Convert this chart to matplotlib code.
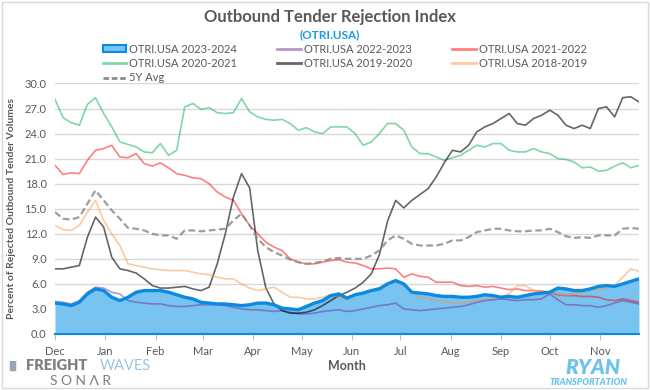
import matplotlib.pyplot as plt
from matplotlib.patches import Patch, Rectangle
from matplotlib.lines import Line2D

plt.rcParams['font.family'] = ['Lato', 'DejaVu Sans']

# days since Dec 1, sampled every 5 days
days = list(range(0, 361, 5))
month_pos = [0, 31, 62, 91, 122, 152, 183, 213, 244, 275, 305, 336]
month_labels = ['Dec', 'Jan', 'Feb', 'Mar', 'Apr', 'May', 'Jun', 'Jul', 'Aug', 'Sep', 'Oct', 'Nov']

otri_2324 = [3.7, 3.6, 3.4, 3.8, 4.8, 5.4, 5.2, 4.4, 4.0, 4.4,
             5.0, 5.2, 5.2, 5.2, 5.0, 4.7, 4.4, 4.2, 3.8, 3.7,
             3.6, 3.6, 3.5, 3.4, 3.5, 3.7, 3.7, 3.5, 3.1, 3.0,
             2.9, 3.3, 3.7, 4.0, 4.6, 4.8, 4.3, 4.7, 4.9, 5.2,
             5.4, 6.0, 6.4, 6.0, 5.0, 4.9, 4.8, 4.6, 4.5, 4.5,
             4.4, 4.4, 4.5, 4.7, 4.6, 4.4, 4.5, 4.4, 4.6, 4.8,
             4.9, 5.0, 5.5, 5.4, 5.2, 5.2, 5.4, 5.7, 5.8, 5.7,
             6.0, 6.3, 6.6]
otri_2223 = [3.9, 3.8, 3.6, 4.0, 5.0, 5.6, 5.5, 5.0, 4.8, 4.0,
             3.8, 3.7, 3.6, 3.6, 3.4, 3.3, 3.3, 3.4, 3.5, 3.5,
             3.5, 3.4, 3.2, 3.0, 2.9, 2.9, 2.8, 2.7, 2.8, 2.6,
             2.4, 2.4, 2.5, 2.7, 2.8, 2.9, 2.7, 2.8, 3.0, 3.2,
             3.4, 3.5, 3.7, 3.0, 2.9, 2.8, 2.9, 3.0, 3.1, 3.2,
             3.3, 3.5, 3.8, 4.0, 4.1, 4.2, 4.1, 4.0, 4.1, 4.1,
             4.2, 4.8, 4.1, 3.5, 3.5, 3.4, 3.4, 3.2, 3.4, 3.7,
             4.0, 3.8, 3.6]
otri_2122 = [20.2, 19.1, 19.3, 19.2, 20.8, 22.0, 22.2, 22.6, 21.2, 21.1,
             21.6, 20.4, 20.1, 20.5, 19.9, 19.2, 19.0, 18.7, 18.6, 18.0,
             17.0, 16.4, 16.0, 14.4, 13.0, 12.0, 11.0, 10.4, 10.0, 9.0,
             8.6, 8.4, 8.4, 8.6, 8.8, 8.9, 8.6, 8.5, 8.2, 7.8,
             7.8, 7.9, 7.8, 6.8, 7.2, 6.9, 6.8, 6.2, 6.2, 6.2,
             5.8, 5.7, 5.8, 5.6, 5.7, 5.5, 5.3, 5.4, 5.2, 5.2,
             5.1, 5.0, 4.7, 4.6, 4.6, 4.5, 4.5, 4.4, 4.1, 4.0,
             4.2, 4.0, 3.8]
otri_2021 = [28.1, 25.9, 25.3, 25.0, 27.5, 28.3, 26.4, 24.8, 23.0, 22.7,
             22.4, 21.8, 21.7, 22.8, 21.4, 22.0, 27.2, 27.6, 26.9, 27.1,
             26.5, 26.4, 26.5, 28.2, 26.6, 26.0, 25.7, 25.6, 25.7, 25.2,
             24.4, 24.7, 24.2, 24.0, 24.8, 24.8, 24.8, 24.0, 22.6, 23.0,
             24.0, 25.2, 25.2, 24.4, 22.4, 21.6, 21.6, 21.2, 20.8, 21.1,
             21.4, 22.0, 22.6, 22.4, 22.8, 22.8, 22.0, 21.8, 21.8, 22.2,
             21.8, 21.6, 21.0, 20.9, 20.6, 19.9, 20.0, 19.5, 19.6, 20.1,
             20.5, 19.9, 20.2]
otri_1920 = [7.8, 7.8, 8.0, 8.2, 11.6, 14.0, 12.8, 9.2, 7.8, 7.6,
             7.3, 6.6, 5.8, 5.5, 5.5, 5.6, 5.7, 5.4, 5.2, 5.6,
             8.4, 12.0, 16.4, 19.2, 17.5, 10.0, 5.5, 3.6, 2.8, 2.5,
             2.5, 2.6, 2.9, 3.4, 4.0, 4.6, 5.0, 5.5, 6.2, 7.2,
             9.5, 13.5, 16.0, 15.1, 16.0, 16.7, 17.4, 18.8, 20.5, 22.0,
             21.8, 22.6, 24.2, 24.8, 25.2, 25.8, 26.4, 25.2, 25.0, 25.8,
             26.2, 26.8, 26.2, 25.0, 24.6, 25.0, 24.6, 27.0, 27.2, 26.0,
             28.3, 28.4, 27.8]
otri_1819 = [13.0, 12.5, 12.4, 13.0, 14.6, 16.0, 13.6, 12.0, 10.6, 8.4,
             8.2, 8.0, 7.8, 7.7, 7.6, 7.6, 7.6, 7.4, 7.2, 7.1,
             6.8, 6.6, 6.6, 6.0, 5.5, 5.2, 5.4, 5.6, 5.0, 4.4,
             4.4, 4.2, 4.2, 4.4, 4.7, 4.4, 4.1, 4.6, 4.9, 5.2,
             5.6, 6.0, 6.2, 5.8, 5.0, 4.4, 4.2, 4.0, 3.9, 3.7,
             3.7, 3.8, 4.0, 4.2, 4.4, 4.5, 4.8, 5.8, 5.8, 5.2,
             5.2, 5.0, 4.8, 4.6, 4.8, 5.0, 5.2, 5.4, 5.5, 5.8,
             6.8, 7.8, 7.5]
avg_5y = [14.6, 13.8, 13.7, 14.0, 15.6, 17.2, 16.0, 14.8, 13.8, 12.7,
          12.6, 12.4, 12.0, 11.8, 11.8, 11.4, 12.4, 12.4, 12.3, 12.4,
          12.5, 12.6, 13.6, 14.4, 13.0, 11.4, 10.4, 9.8, 9.4, 8.9,
          8.6, 8.4, 8.5, 8.7, 9.0, 9.1, 9.0, 9.0, 9.0, 9.4,
          10.0, 11.2, 11.8, 11.4, 10.8, 10.6, 10.6, 10.6, 10.8, 11.2,
          11.2, 11.6, 12.2, 12.4, 12.6, 12.6, 12.4, 12.3, 12.3, 12.4,
          12.4, 12.6, 12.2, 11.7, 11.5, 11.6, 11.5, 11.8, 11.8, 11.8,
          12.6, 12.7, 12.6]

gray = '#595959'
fig = plt.figure(figsize=(6.5, 3.9), dpi=100)
fig.patches.append(Rectangle((0.003, 0.004), 0.994, 0.992, transform=fig.transFigure,
                             fill=False, edgecolor='#D9D9D9', lw=1))
ax = fig.add_axes([0.0846, 0.1436, 0.8984, 0.6424])

ax.fill_between(days, otri_2324, 0, color='#78C3F0', lw=0, zorder=2)
ax.plot([0, 360], [0, 0], color='#0A8AE0', lw=1.5, zorder=5, clip_on=False)
ax.plot(days, otri_2223, color='#7030A0', alpha=0.5, lw=1.2, zorder=3)
ax.plot(days, otri_2122, color='#FF0000', alpha=0.5, lw=1.2, zorder=3)
ax.plot(days, otri_2021, color='#00B050', alpha=0.5, lw=1.2, zorder=3)
ax.plot(days, otri_1920, color='#000000', alpha=0.6, lw=1.2, zorder=3)
ax.plot(days, otri_1819, color='#F79646', alpha=0.5, lw=1.2, zorder=3)
ax.plot(days, avg_5y, color='#8C8C8C', alpha=0.85, lw=1.6, ls=(0, (3, 1.6)), zorder=3)
ax.plot(days, otri_2324, color='#0A8AE0', lw=2.4, zorder=4)

ax.set_xlim(0, 360)
ax.set_ylim(0, 30)
ax.set_yticks([0, 3, 6, 9, 12, 15, 18, 21, 24, 27, 30])
ax.set_yticklabels([f'{v:.1f}' for v in ax.get_yticks()])
ax.set_xticks(month_pos)
ax.set_xticklabels(month_labels)
ax.grid(axis='y', color='#D9D9D9', lw=1)
ax.set_axisbelow(True)
for s in ax.spines.values():
    s.set_visible(False)
ax.tick_params(axis='y', length=0, labelsize=8, colors=gray, pad=6)
ax.tick_params(axis='x', length=4, color='#BFBFBF', labelsize=8, labelcolor=gray, pad=5)
ax.set_xlabel('Month', fontsize=9, fontweight='bold', color=gray, labelpad=2)
ax.set_ylabel('Percent of Rejected Outbound Tender Volumes', fontsize=7.5,
              fontweight='bold', color=gray, labelpad=6)

fig.text(0.508, 0.957, 'Outbound Tender Rejection Index', ha='center', va='center',
         fontsize=12, fontweight='bold', color=gray)
fig.text(0.508, 0.91, '(OTRI.USA)', ha='center', va='center',
         fontsize=8.5, fontweight='bold', color='#1A9BE0')

handles = [
    Patch(facecolor='#78C3F0', edgecolor='#0A8AE0', lw=1.5),
    Line2D([], [], color='#00B050', alpha=0.5, lw=2),
    Line2D([], [], color='#8C8C8C', lw=2, ls=(0, (2, 1))),
    Line2D([], [], color='#7030A0', alpha=0.5, lw=2),
    Line2D([], [], color='#000000', alpha=0.6, lw=2),
    Line2D([], [], color='#FF0000', alpha=0.5, lw=2),
    Line2D([], [], color='#F79646', alpha=0.5, lw=2),
]
labels = ['OTRI.USA 2023-2024', 'OTRI.USA 2020-2021', '5Y Avg',
          'OTRI.USA 2022-2023', 'OTRI.USA 2019-2020',
          'OTRI.USA 2021-2022', 'OTRI.USA 2018-2019']
fig.legend(handles, labels, ncol=3, loc='upper left', bbox_to_anchor=(0.158, 0.888),
           frameon=False, fontsize=8, handlelength=2.1, handleheight=0.6,
           handletextpad=0.3, columnspacing=3.6, labelspacing=0.3,
           labelcolor=gray, borderpad=0, borderaxespad=0)

# logos
fig.text(0.008, 0.062, '\u2590\u258c', fontsize=7, color='#9AA5B1', va='center')
fig.text(0.04, 0.062, 'FREIGHT', fontsize=10.5, fontweight='heavy', color='#7F7F7F', va='center')
fig.text(0.153, 0.062, 'WAVES', fontsize=10.5, color='#9DC3E6', va='center')
fig.text(0.077, 0.022, 'S O N \u039b R', fontsize=10, color='#7F7F7F', va='center')
fig.text(0.912, 0.058, 'RYAN', fontsize=15, fontweight='heavy', style='italic',
         color='#6CC3EC', ha='center', va='center')
fig.text(0.905, 0.018, 'TRANSPORTATION', fontsize=6.5, fontweight='heavy', style='italic',
         color='#6CC3EC', ha='center', va='center')

fig.savefig('out.png', dpi=100)
